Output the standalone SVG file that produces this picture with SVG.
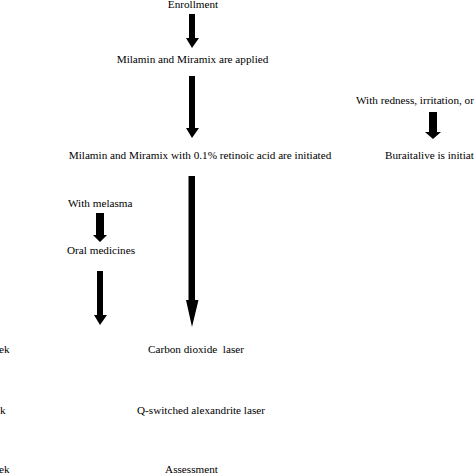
<svg xmlns="http://www.w3.org/2000/svg" width="474" height="474" viewBox="0 0 474 474">
<style>
text{font-family:"Liberation Serif","Times New Roman",serif;font-size:11.2px;fill:#000}
.c{text-anchor:middle}
.arr{fill:#000;stroke:none}
</style>
<rect width="474" height="474" fill="#fff"/>
<g id="n-enroll"><text class="c" x="193" y="8">Enrollment</text></g>
<g id="n-applied"><text class="c" x="192.5" y="63">Milamin and Miramix are applied</text></g>
<g id="n-retinoic"><text class="c" x="200" y="159">Milamin and Miramix with 0.1% retinoic acid are initiated</text></g>
<g id="n-redness"><text x="356" y="104">With redness, irritation, or</text></g>
<g id="n-buraitalive"><text x="385" y="159">Buraitalive is initiated</text></g>
<g id="n-melasma"><text x="68" y="207">With melasma</text></g>
<g id="n-oral"><text x="67" y="254">Oral medicines</text></g>
<g id="n-co2"><text class="c" x="196" y="353" xml:space="preserve">Carbon dioxide  laser</text></g>
<g id="n-qswitch"><text class="c" x="201" y="414">Q-switched alexandrite laser</text></g>
<g id="n-assess"><text class="c" x="191.5" y="473">Assessment</text></g>
<g id="n-week1"><text x="-1" y="353">ek</text></g>
<g id="n-week2"><text x="0" y="414">k</text></g>
<g id="n-week3"><text x="-1" y="473">ek</text></g>
<g id="connectors">
<polygon class="arr" points="189,14 195,14 195,38 199,38 192,48 186,38 189,38"/>
<polygon class="arr" points="189,76 195,76 195,128 199,128 192,138 186,128 189,128"/>
<polygon class="arr" points="188.5,176 195,176 195,300 198.5,300 192,327 186,300 188.5,300"/>
<polygon class="arr" points="429,112 437,112 437,132 441,132 433,139 425,132 429,132"/>
<polygon class="arr" points="96,213 104,213 104,235 107,235 100,242 93,235 96,235"/>
<polygon class="arr" points="97,271 103,271 103,315 107,315 100,325 94,315 97,315"/>
</g>
</svg>
